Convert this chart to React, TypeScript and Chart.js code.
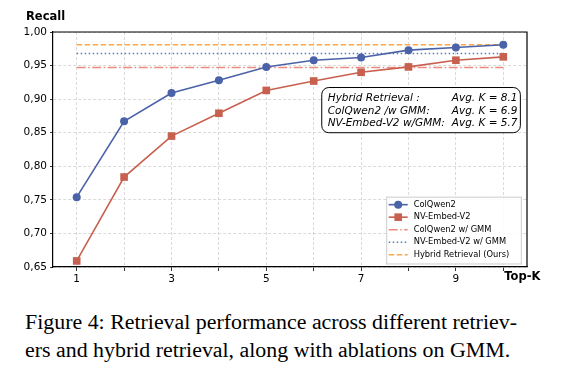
import React, { useEffect, useRef } from "react";
import { Chart, registerables } from "chart.js";

Chart.register(...registerables);

const topK = [1, 2, 3, 4, 5, 6, 7, 8, 9, 10];
const colQwen2 = [0.754, 0.867, 0.909, 0.928, 0.948, 0.958, 0.962, 0.973, 0.977, 0.981];
const nvEmbedV2 = [0.659, 0.784, 0.845, 0.879, 0.913, 0.927, 0.940, 0.948, 0.958, 0.963];
const colQwen2GMM = 0.947;
const nvEmbedGMM = 0.968;
const hybrid = 0.981;
const xTickLabels = ["1", "3", "5", "7", "9"];
const seriesNames = [
  "ColQwen2",
  "NV-Embed-V2",
  "ColQwen2 w/ GMM",
  "NV-Embed-V2 w/ GMM",
  "Hybrid Retrieval (Ours)",
];
const annotationLeft = ["Hybrid Retrieval :", "ColQwen2 /w GMM:", "NV-Embed-V2 w/GMM:"];
const annotationRight = ["Avg. K = 8.1", "Avg. K = 6.9", "Avg. K = 5.7"];
const captionLines = [
  "Figure 4: Retrieval performance across different retriev-",
  "ers and hybrid retrieval, along with ablations on GMM.",
];

const FONT = "'DejaVu Sans', sans-serif";
const BLUE = "#4a62a8";
const RED = "#c8604f";
const LRED = "#ec8a80";
const DBLUE = "#4f7fb3";
const ORANGE = "#f7a94c";

const overlay = {
  id: "overlay",
  afterDatasetsDraw(chart: any) {
    const { ctx, chartArea } = chart;
    const xs = chart.scales.x;
    const ys = chart.scales.y;
    ctx.save();
    // frame top & right
    ctx.strokeStyle = "#000";
    ctx.lineWidth = 1.2;
    ctx.setLineDash([]);
    ctx.beginPath();
    ctx.moveTo(chartArea.left, chartArea.top);
    ctx.lineTo(chartArea.right, chartArea.top);
    ctx.lineTo(chartArea.right, chartArea.bottom);
    ctx.stroke();

    // annotation box
    const bx = xs.getPixelForValue(6.17);
    const bx2 = xs.getPixelForValue(10.36);
    const by = ys.getPixelForValue(0.9173);
    const by2 = ys.getPixelForValue(0.85);
    const r = 7;
    ctx.beginPath();
    ctx.moveTo(bx + r, by);
    ctx.arcTo(bx2, by, bx2, by2, r);
    ctx.arcTo(bx2, by2, bx, by2, r);
    ctx.arcTo(bx, by2, bx, by, r);
    ctx.arcTo(bx, by, bx2, by, r);
    ctx.closePath();
    ctx.fillStyle = "#fff";
    ctx.fill();
    ctx.strokeStyle = "#000";
    ctx.lineWidth = 1;
    ctx.stroke();
    ctx.fillStyle = "#000";
    ctx.font = `italic 10.5px ${FONT}`;
    ctx.textBaseline = "middle";
    ctx.textAlign = "left";
    for (let i = 0; i < 3; i++) {
      const yy = by + 10.5 + i * 12.8;
      ctx.fillText(annotationLeft[i], bx + 6, yy);
      ctx.fillText(annotationRight[i], bx + 130, yy);
    }

    // legend
    const lx = xs.getPixelForValue(7.54);
    const lx2 = xs.getPixelForValue(10.38);
    const ly = ys.getPixelForValue(0.754);
    const ly2 = ys.getPixelForValue(0.6545);
    ctx.fillStyle = "rgba(255,255,255,0.85)";
    ctx.strokeStyle = "#cccccc";
    ctx.lineWidth = 1;
    ctx.fillRect(lx, ly, lx2 - lx, ly2 - ly);
    ctx.strokeRect(lx, ly, lx2 - lx, ly2 - ly);
    const ds = chart.data.datasets;
    ctx.font = `8.3px ${FONT}`;
    for (let i = 0; i < ds.length; i++) {
      const d = ds[i];
      const yy = ly + 7.5 + i * 12.5;
      ctx.strokeStyle = d.borderColor;
      ctx.lineWidth = d.borderWidth;
      ctx.setLineDash(d.borderDash || []);
      ctx.beginPath();
      ctx.moveTo(lx + 2, yy);
      ctx.lineTo(lx + 21, yy);
      ctx.stroke();
      ctx.setLineDash([]);
      if (d.pointRadius > 0) {
        ctx.fillStyle = d.borderColor;
        if (d.pointStyle === "rect") {
          ctx.fillRect(lx + 11.5 - 3.8, yy - 3.8, 7.6, 7.6);
        } else {
          ctx.beginPath();
          ctx.arc(lx + 11.5, yy, 4, 0, Math.PI * 2);
          ctx.fill();
        }
      }
      ctx.fillStyle = "#000";
      ctx.textAlign = "left";
      ctx.fillText(d.label, lx + 27, yy);
    }

    // axis labels
    ctx.fillStyle = "#000";
    ctx.font = `bold 11.5px ${FONT}`;
    ctx.textAlign = "left";
    ctx.textBaseline = "middle";
    ctx.fillText("Recall", 26, 17);
    ctx.fillText("Top-K", xs.getPixelForValue(10) + 1, 277);
    ctx.restore();
  },
};

export default function App() {
  const ref = useRef<HTMLCanvasElement>(null);
  useEffect(() => {
    const flat = (v: number) => [
      { x: topK[0], y: v },
      { x: topK[topK.length - 1], y: v },
    ];
    const chart = new Chart(ref.current as HTMLCanvasElement, {
      type: "line",
      data: {
        datasets: [
          {
            label: seriesNames[0],
            data: topK.map((k, i) => ({ x: k, y: colQwen2[i] })),
            borderColor: BLUE,
            backgroundColor: BLUE,
            borderWidth: 1.6,
            pointStyle: "circle",
            pointRadius: 4,
            pointBorderWidth: 0,
          },
          {
            label: seriesNames[1],
            data: topK.map((k, i) => ({ x: k, y: nvEmbedV2[i] })),
            borderColor: RED,
            backgroundColor: RED,
            borderWidth: 1.6,
            pointStyle: "rect",
            pointRadius: 5.4,
            pointBorderWidth: 0,
          },
          {
            label: seriesNames[2],
            data: flat(colQwen2GMM),
            borderColor: LRED,
            borderWidth: 1.5,
            borderDash: [9, 2.5, 1.5, 2.5],
            pointRadius: 0,
          },
          {
            label: seriesNames[3],
            data: flat(nvEmbedGMM),
            borderColor: DBLUE,
            borderWidth: 1.5,
            borderDash: [1.5, 2.5],
            pointRadius: 0,
          },
          {
            label: seriesNames[4],
            data: flat(hybrid),
            borderColor: ORANGE,
            borderWidth: 1.5,
            borderDash: [5.5, 2.5],
            pointRadius: 0,
          },
        ] as any,
      },
      options: {
        animation: false,
        responsive: false,
        layout: { padding: { left: 0, right: 36, top: 32, bottom: 0 } },
        plugins: { legend: { display: false }, tooltip: { enabled: false } },
        scales: {
          x: {
            type: "linear",
            min: 0.5,
            max: 10.5,
            afterBuildTicks: (s: any) => {
              s.ticks = topK.map((v) => ({ value: v }));
            },
            afterFit: (s: any) => {
              s.height = 33;
            },
            ticks: {
              autoSkip: false,
              maxRotation: 0,
              padding: 2,
              color: "#000",
              font: { family: FONT, size: 10.5 },
              callback: (v: any) => (xTickLabels.includes(String(v)) ? String(v) : ""),
            },
            grid: { color: "#d0d0d0", tickColor: "#000", tickLength: 4, lineWidth: 0.8 },
            border: { display: true, color: "#000", width: 1.2, dash: [3, 2] },
          },
          y: {
            min: 0.65,
            max: 1.0,
            afterFit: (s: any) => {
              s.width = 53;
            },
            ticks: {
              stepSize: 0.05,
              padding: 3,
              color: "#000",
              font: { family: FONT, size: 10.5 },
              callback: (v: any) => Number(v).toFixed(2).replace(".", ","),
            },
            grid: { color: "#d0d0d0", tickColor: "#000", tickLength: 3, lineWidth: 0.8 },
            border: { display: true, color: "#000", width: 1.2, dash: [3, 2] },
          },
        },
      },
      plugins: [overlay],
    });
    return () => chart.destroy();
  }, []);
  return (
    <div style={{ position: "fixed", left: 0, top: 0, width: 563, height: 383, background: "#fff" }}>
      <canvas ref={ref} width={563} height={300} style={{ display: "block" }} />
      <div
        style={{
          position: "absolute",
          left: 25,
          top: 308,
          fontFamily: "'Liberation Serif', 'Times New Roman', serif",
          fontSize: 21.9,
          lineHeight: "27.6px",
          color: "#000",
          whiteSpace: "nowrap",
        }}
      >
        {captionLines.map((l, i) => (
          <div key={i}>{l}</div>
        ))}
      </div>
    </div>
  );
}
